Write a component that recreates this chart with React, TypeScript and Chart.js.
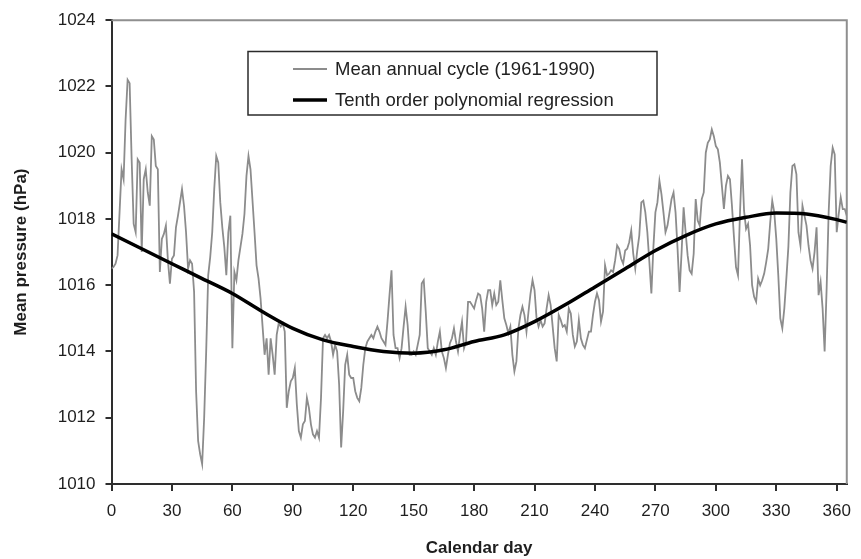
import React, { useEffect, useRef } from "react";
import { Chart, registerables } from "chart.js";

Chart.register(...registerables);

// Mean daily sea-level pressure (hPa), 1961-1990 climatology, split by quarter of the year.
const pressureDays0to90 = [
  1016.5, 1016.55, 1016.65, 1016.9, 1018.2, 1019.5, 1019.2, 1021.0, 1022.2, 1022.1,
  1019.8, 1017.85, 1017.6, 1019.8, 1019.7, 1017.0, 1019.2, 1019.5, 1018.8, 1018.4,
  1020.5, 1020.4, 1019.6, 1019.5, 1016.4, 1017.4, 1017.55, 1017.8, 1016.75, 1016.05,
  1016.8, 1016.9, 1017.75, 1018.1, 1018.5, 1018.9, 1018.4, 1017.6, 1016.5, 1016.75,
  1016.65, 1015.8, 1012.8, 1011.3, 1010.9, 1010.6, 1012.0, 1014.0, 1016.3, 1016.85,
  1017.6, 1018.9, 1019.9, 1019.7, 1018.5, 1017.75, 1017.15, 1016.3, 1017.6, 1018.1,
  1014.1, 1016.4, 1016.15, 1016.75, 1017.15, 1017.55, 1018.15, 1019.3, 1019.9, 1019.5,
  1018.55, 1017.6, 1016.6, 1016.2, 1015.6, 1014.75, 1013.9, 1014.4, 1013.3, 1014.4,
  1013.9, 1013.3, 1014.5, 1014.85, 1014.75, 1014.85, 1014.6, 1012.3, 1012.8, 1013.1,
  1013.2,
];
const pressureDays91to181 = [
  1013.5, 1012.4, 1011.6, 1011.4, 1011.8, 1011.9, 1012.6, 1012.3, 1011.8,
  1011.5, 1011.4, 1011.6, 1011.4, 1012.6, 1014.4, 1014.5, 1014.4, 1014.5, 1014.3,
  1013.9, 1014.2, 1014.0, 1013.0, 1011.1, 1012.2, 1013.6, 1013.9, 1013.3, 1013.2,
  1013.2, 1012.8, 1012.6, 1012.5, 1012.9, 1013.6, 1014.1, 1014.3, 1014.4, 1014.5,
  1014.4, 1014.6, 1014.75, 1014.6, 1014.4, 1014.3, 1014.2, 1014.9, 1015.7, 1016.45,
  1014.5, 1014.1, 1014.1, 1013.8, 1014.1, 1014.75, 1015.35, 1014.8, 1013.9, 1013.9,
  1014.0, 1013.9, 1014.2, 1014.5, 1016.05, 1016.15, 1015.2, 1014.1, 1014.0, 1013.9,
  1014.1, 1013.9, 1014.3, 1014.6, 1014.0, 1013.8, 1013.5, 1013.9, 1014.25, 1014.4,
  1014.7, 1014.3, 1014.0, 1014.5, 1014.9, 1014.1, 1014.3, 1015.5, 1015.5, 1015.4,
  1015.3, 1015.55,
];
const pressureDays182to272 = [
  1015.75, 1015.7, 1015.3, 1014.6, 1015.5, 1015.85, 1015.85, 1015.4,
  1015.75, 1015.4, 1015.5, 1016.15, 1015.55, 1015.0, 1014.8, 1014.55, 1014.75, 1013.9,
  1013.4, 1013.7, 1014.7, 1015.1, 1015.35, 1015.1, 1014.6, 1015.2, 1015.75, 1016.15,
  1015.85, 1015.0, 1014.75, 1014.95, 1014.75, 1014.85, 1015.3, 1015.7, 1015.4, 1014.75,
  1014.1, 1013.7, 1015.1, 1014.95, 1014.75, 1014.8, 1014.6, 1015.3, 1015.15, 1014.5,
  1014.15, 1014.3, 1014.95, 1014.4, 1014.2, 1014.1, 1014.35, 1014.6, 1014.6, 1015.1,
  1015.5, 1015.75, 1015.55, 1014.9, 1015.2, 1016.6, 1016.3, 1016.35, 1016.45, 1016.4,
  1016.75, 1017.2, 1017.1, 1016.8, 1016.65, 1017.05, 1017.1, 1017.3, 1017.65, 1016.95,
  1016.5, 1017.05, 1017.5, 1018.5, 1018.55, 1018.2, 1017.6, 1016.7, 1015.75, 1017.15,
  1018.2, 1018.5, 1019.15,
];
const pressureDays273to365 = [
  1018.75, 1018.2, 1017.6, 1017.8, 1018.2, 1018.6, 1018.8,
  1018.2, 1017.1, 1015.8, 1017.0, 1018.35, 1017.6, 1016.9, 1016.45, 1016.35, 1016.95,
  1018.6, 1017.95, 1017.8, 1018.6, 1018.8, 1020.0, 1020.3, 1020.4, 1020.7, 1020.5,
  1020.2, 1020.1, 1019.7, 1019.0, 1018.3, 1019.0, 1019.3, 1019.2, 1018.4, 1017.45,
  1016.55, 1016.3, 1018.2, 1019.8, 1018.25, 1017.7, 1017.85, 1017.2, 1016.0, 1015.65,
  1015.5, 1016.2, 1016.0, 1016.15, 1016.35, 1016.7, 1017.1, 1017.9, 1018.55, 1018.2,
  1017.4, 1016.3, 1015.0, 1014.7, 1015.3, 1016.2, 1017.15, 1018.8, 1019.6, 1019.65,
  1019.35, 1017.6, 1017.2, 1018.4, 1018.1, 1017.8, 1017.2, 1016.75, 1016.5, 1017.0,
  1017.75, 1015.7, 1016.1, 1015.3, 1014.0, 1015.9, 1018.2, 1019.6, 1020.15, 1019.95,
  1017.6, 1018.15, 1018.65, 1018.3, 1018.3, 1018.1,
];

// Tenth order polynomial regression, sampled along the year.
const fitDays = [0, 15, 30, 45, 60, 75, 90, 105, 120, 135, 150, 165, 180, 195, 210, 225, 240, 255, 270, 285, 300, 315, 330, 345, 360, 365];
const fitPressure = [
  1017.55, 1017.1, 1016.65, 1016.2, 1015.75, 1015.2, 1014.7, 1014.35, 1014.15, 1014.0,
  1013.95, 1014.05, 1014.3, 1014.5, 1014.9, 1015.4, 1015.95, 1016.5, 1017.05, 1017.5,
  1017.85, 1018.05, 1018.18, 1018.15, 1017.98, 1017.9,
];

const dayTicks = [0, 30, 60, 90, 120, 150, 180, 210, 240, 270, 300, 330, 360];
const pressureTicks = [1010, 1012, 1014, 1016, 1018, 1020, 1022, 1024];

const seriesLabels = ["Mean annual cycle (1961-1990)", "Tenth order polynomial regression"];

const FONT = "'Liberation Sans', Arial, Helvetica, sans-serif";

// Grey frame on the top and right of the plot area.
const framePlugin = {
  id: "plotFrame",
  beforeDatasetsDraw(chart: any) {
    const { ctx, chartArea } = chart;
    ctx.save();
    ctx.strokeStyle = "#8f8f8f";
    ctx.lineWidth = 2;
    ctx.beginPath();
    ctx.moveTo(chartArea.left, chartArea.top);
    ctx.lineTo(chartArea.right, chartArea.top);
    ctx.lineTo(chartArea.right, chartArea.bottom);
    ctx.stroke();
    ctx.restore();
  },
};

// Boxed legend inside the plot area.
const boxedLegendPlugin = {
  id: "boxedLegend",
  afterDatasetsDraw(chart: any) {
    const { ctx } = chart;
    const box = { x: 248, y: 51.5, w: 409, h: 63.5 };
    const rowY = [69, 100];
    ctx.save();
    ctx.fillStyle = "#ffffff";
    ctx.fillRect(box.x, box.y, box.w, box.h);
    ctx.strokeStyle = "#2b2b2b";
    ctx.lineWidth = 1.5;
    ctx.strokeRect(box.x, box.y, box.w, box.h);
    chart.data.datasets.forEach((ds: any, i: number) => {
      const y = rowY[i];
      ctx.strokeStyle = ds.borderColor;
      ctx.lineWidth = ds.borderWidth;
      ctx.beginPath();
      ctx.moveTo(293, y);
      ctx.lineTo(327, y);
      ctx.stroke();
      ctx.fillStyle = "#222222";
      ctx.font = `18.5px ${FONT}`;
      ctx.textBaseline = "middle";
      ctx.textAlign = "left";
      ctx.fillText(ds.label, 335, y + 1);
    });
    ctx.restore();
  },
};

export default function App() {
  const canvasRef = useRef<HTMLCanvasElement | null>(null);

  useEffect(() => {
    const canvas = canvasRef.current;
    if (!canvas) return;

    const daily = [...pressureDays0to90, ...pressureDays91to181, ...pressureDays182to272, ...pressureDays273to365];
    const dailyPoints = daily.map((p, day) => ({ x: day, y: p }));
    const fitPoints = fitDays.map((d, i) => ({ x: d, y: fitPressure[i] }));

    const chart = new Chart(canvas, {
      type: "line",
      data: {
        datasets: [
          {
            label: seriesLabels[0],
            data: dailyPoints,
            borderColor: "#8c8c8c",
            borderWidth: 1.8,
            pointRadius: 0,
            tension: 0,
            order: 2,
          },
          {
            label: seriesLabels[1],
            data: fitPoints,
            borderColor: "#000000",
            borderWidth: 3.5,
            pointRadius: 0,
            cubicInterpolationMode: "monotone",
            order: 1,
          },
        ],
      },
      options: {
        animation: false,
        responsive: true,
        maintainAspectRatio: false,
        layout: { padding: { top: 20, right: 8, left: 0, bottom: 0 } },
        plugins: {
          legend: { display: false },
          tooltip: { enabled: false },
          title: { display: false },
        },
        scales: {
          x: {
            type: "linear",
            min: 0,
            max: 365,
            afterBuildTicks: (scale: any) => {
              scale.ticks = dayTicks.map((value) => ({ value }));
            },
            afterFit: (scale: any) => {
              scale.height = 75;
            },
            ticks: {
              color: "#1e1e1e",
              font: { family: FONT, size: 17 },
              padding: 10,
              maxRotation: 0,
              autoSkip: false,
              callback: (value: any) => String(value),
            },
            grid: {
              drawOnChartArea: false,
              drawTicks: true,
              tickLength: 7,
              color: "#2e2e2e",
              lineWidth: 2,
            },
            border: { display: true, color: "#2e2e2e", width: 2 },
            title: {
              display: true,
              text: "Calendar day",
              color: "#1e1e1e",
              font: { family: FONT, size: 17, weight: "bold" },
              padding: { top: 0, bottom: 0 },
            },
          },
          y: {
            type: "linear",
            min: 1010,
            max: 1024,
            afterBuildTicks: (scale: any) => {
              scale.ticks = pressureTicks.map((value) => ({ value }));
            },
            afterFit: (scale: any) => {
              scale.width = 111.5;
            },
            ticks: {
              color: "#1e1e1e",
              font: { family: FONT, size: 17 },
              padding: 10,
              callback: (value: any) => String(value),
            },
            grid: {
              drawOnChartArea: false,
              drawTicks: true,
              tickLength: 6,
              color: "#2e2e2e",
              lineWidth: 2,
            },
            border: { display: true, color: "#2e2e2e", width: 2 },
            title: {
              display: true,
              text: "Mean pressure (hPa)",
              color: "#1e1e1e",
              font: { family: FONT, size: 17, weight: "bold" },
              padding: { top: 11, bottom: 0 },
            },
          },
        },
      },
      plugins: [framePlugin, boxedLegendPlugin],
    });

    return () => chart.destroy();
  }, []);

  return (
    <div style={{ position: "absolute", left: 0, top: 0, width: 861, height: 559, background: "#ffffff" }}>
      <canvas ref={canvasRef} />
    </div>
  );
}
